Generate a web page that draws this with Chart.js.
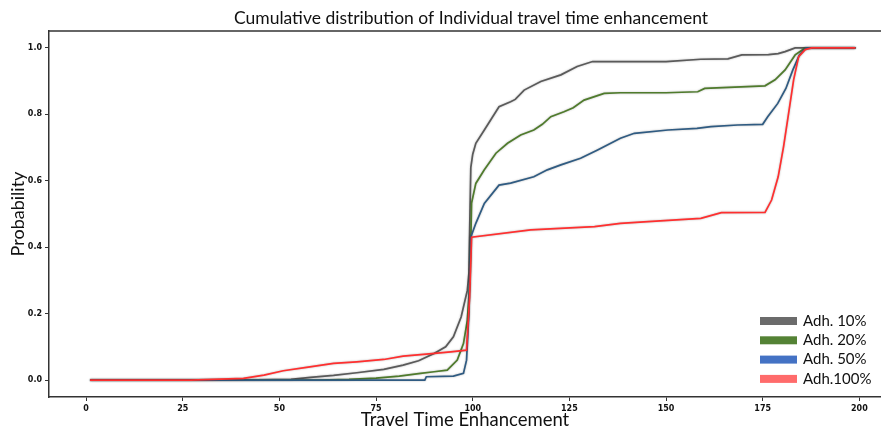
<!DOCTYPE html>
<html>
<head>
<meta charset="utf-8">
<script src="https://cdn.jsdelivr.net/npm/chart.js@4.4.1/dist/chart.umd.min.js"></script>
<style>
  html, body { margin: 0; padding: 0; background: #fff; }
  #wrap { width: 881px; height: 427px; position: relative; }
</style>
</head>
<body>
<div id="wrap"><canvas id="cdf"></canvas></div>
<script>
// values
const seriesLabels = ['Adh. 10%', 'Adh. 20%', 'Adh. 50%', 'Adh.100%'];

const x10 = [1, 27, 40, 53, 58, 64, 70, 77, 82, 86, 90, 93, 95, 97, 98.6, 99, 99.5, 100, 100.8, 103, 105, 106.8, 109.8, 111, 113.3, 117.6, 122.8, 127, 131, 133, 150, 159, 166, 169.6, 176.5, 179, 180.8, 183.4, 199];
const y10 = [0, 0, 0, 0.002, 0.008, 0.014, 0.022, 0.032, 0.045, 0.058, 0.08, 0.1, 0.13, 0.19, 0.27, 0.32, 0.64, 0.68, 0.713, 0.753, 0.79, 0.823, 0.838, 0.845, 0.873, 0.899, 0.919, 0.944, 0.959, 0.959, 0.959, 0.966, 0.967, 0.979, 0.98, 0.983, 0.989, 1.0, 1.0];

const x20 = [1, 60, 68, 75, 81, 86.5, 90, 93.4, 96, 97.6, 98.6, 99.3, 99.7, 100.8, 103, 106, 109, 112.4, 115.8, 118, 120.2, 123.6, 126, 128.8, 134, 138.2, 150, 158.2, 160, 175.6, 178.2, 180.8, 183.4, 186, 199];
const y20 = [0, 0, 0.002, 0.006, 0.012, 0.02, 0.025, 0.03, 0.06, 0.11, 0.18, 0.3, 0.533, 0.592, 0.633, 0.683, 0.713, 0.738, 0.753, 0.77, 0.793, 0.808, 0.82, 0.843, 0.863, 0.865, 0.865, 0.868, 0.878, 0.886, 0.904, 0.934, 0.979, 1.0, 1.0];

const x50 = [1, 87.6, 88, 95, 97.6, 98.4, 99, 99.5, 100.8, 103, 106.8, 109.8, 115.8, 119.3, 122.8, 127.9, 132.3, 138.2, 141.8, 150.5, 158, 161.6, 168.5, 175, 176.3, 178.9, 181, 182.8, 184.5, 186.2, 199];
const y50 = [0, 0, 0.01, 0.012, 0.02, 0.06, 0.2, 0.43, 0.472, 0.532, 0.587, 0.593, 0.612, 0.633, 0.648, 0.668, 0.693, 0.728, 0.743, 0.753, 0.758, 0.763, 0.768, 0.77, 0.793, 0.833, 0.878, 0.934, 0.979, 1.0, 1.0];

const x100 = [1, 27, 33, 40.7, 46, 51, 57, 64, 70, 77, 82, 88, 94.3, 98.4, 99.2, 99.7, 115, 131.5, 138.2, 145.3, 159, 164.3, 175.6, 177.3, 179, 180.4, 181.7, 183, 184.3, 186, 187.7, 199];
const y100 = [0, 0, 0.002, 0.005, 0.015, 0.028, 0.038, 0.05, 0.055, 0.062, 0.072, 0.078, 0.085, 0.09, 0.25, 0.43, 0.452, 0.462, 0.472, 0.477, 0.487, 0.504, 0.505, 0.542, 0.612, 0.703, 0.803, 0.904, 0.974, 0.995, 1.0, 1.0];

const xTicks = [0, 25, 50, 75, 100, 125, 150, 175, 200];
const yTicks = [0, 0.2, 0.4, 0.6, 0.8, 1.0];

const chartTitle = 'Cumulative distribution of Individual travel time enhancement';
const lineColors = ['#5a5a5a', '#4f7b2c', '#2f5b82', '#ff2f2f'];
const legendColors = ['#6b6b6b', '#548235', '#4472c4', '#ff6b6b'];

function pts(xs, ys) {
  return xs.map((x, i) => ({ x, y: ys[i] }));
}

const allX = [x10, x20, x50, x100];
const allY = [y10, y20, y50, y100];

// soft grey halo round the lines
const haloPlugin = {
  id: 'halo',
  beforeDatasetsDraw(chart) {
    const c = chart.ctx;
    c.save();
    c.shadowColor = 'rgba(0,0,0,0.3)';
    c.shadowBlur = 2;
  },
  afterDatasetsDraw(chart) {
    chart.ctx.restore();
  }
};

// top line of the frame and the title, centred over the plot like matplotlib does
const framePlugin = {
  id: 'frame',
  afterDraw(chart) {
    const { ctx, chartArea } = chart;
    ctx.save();
    ctx.strokeStyle = '#333';
    ctx.lineWidth = 1.5;
    ctx.beginPath();
    ctx.moveTo(chartArea.left, chartArea.top);
    ctx.lineTo(chartArea.right, chartArea.top);
    ctx.stroke();
    ctx.font = '17.5px Lato';
    ctx.fillStyle = '#111';
    ctx.textAlign = 'center';
    ctx.textBaseline = 'middle';
    ctx.fillText(chartTitle, 471, 18);
    ctx.restore();
  }
};

// legend in the lower right corner, like the original
const cornerLegend = {
  id: 'cornerLegend',
  afterDraw(chart) {
    const { ctx } = chart;
    ctx.save();
    ctx.font = '15px Lato';
    ctx.textBaseline = 'middle';
    seriesLabels.forEach((lab, i) => {
      const y = 321 + i * 19.3;
      ctx.fillStyle = legendColors[i];
      ctx.fillRect(760, y - 4, 37, 8);
      ctx.fillStyle = '#111';
      ctx.fillText(lab, 803, y);
    });
    ctx.restore();
  }
};

const ctx = document.getElementById('cdf');
new Chart(ctx, {
  type: 'line',
  data: {
    datasets: seriesLabels.map((lab, i) => ({
      label: lab,
      data: pts(allX[i], allY[i]),
      borderColor: lineColors[i],
      borderWidth: 1.7,
      pointRadius: 0,
      tension: 0,
      fill: false,
      order: 3 - i
    }))
  },
  options: {
    responsive: true,
    maintainAspectRatio: false,
    animation: false,
    layout: { padding: { left: 0, right: 0, top: 31, bottom: 0 } },
    plugins: {
      legend: { display: false },
      tooltip: { enabled: false },
      title: { display: false }
    },
    scales: {
      x: {
        type: 'linear',
        min: -9.6,
        max: 205.6,
        afterBuildTicks: (s) => { s.ticks = xTicks.map(v => ({ value: v })); },
        afterFit: (s) => { s.height = 30; },
        ticks: { color: '#111', font: { family: 'DejaVu Sans', size: 8, weight: 'bold' }, padding: 3, maxRotation: 0 },
        grid: { drawOnChartArea: false, drawTicks: true, tickLength: 4, color: '#333' },
        border: { color: '#333', width: 1.5 },
        title: { display: true, text: 'Travel Time Enhancement', color: '#111', font: { family: 'Lato', size: 18.5, lineHeight: 0.7 }, padding: { top: 0, bottom: 0 } }
      },
      y: {
        min: -0.051,
        max: 1.051,
        afterBuildTicks: (s) => { s.ticks = yTicks.map(v => ({ value: v })); },
        afterFit: (s) => { s.width = 49; },
        ticks: { color: '#111', font: { family: 'DejaVu Sans', size: 8, weight: 'bold' }, padding: 3, callback: (v) => v.toFixed(1) },
        grid: { drawOnChartArea: false, drawTicks: true, tickLength: 4, color: '#333' },
        border: { color: '#333', width: 1.5 },
        title: { display: true, text: 'Probability', color: '#111', font: { family: 'Lato', size: 18, lineHeight: 1 }, padding: { top: 9, bottom: 0 } }
      }
    }
  },
  plugins: [haloPlugin, framePlugin, cornerLegend]
});
</script>
</body>
</html>
